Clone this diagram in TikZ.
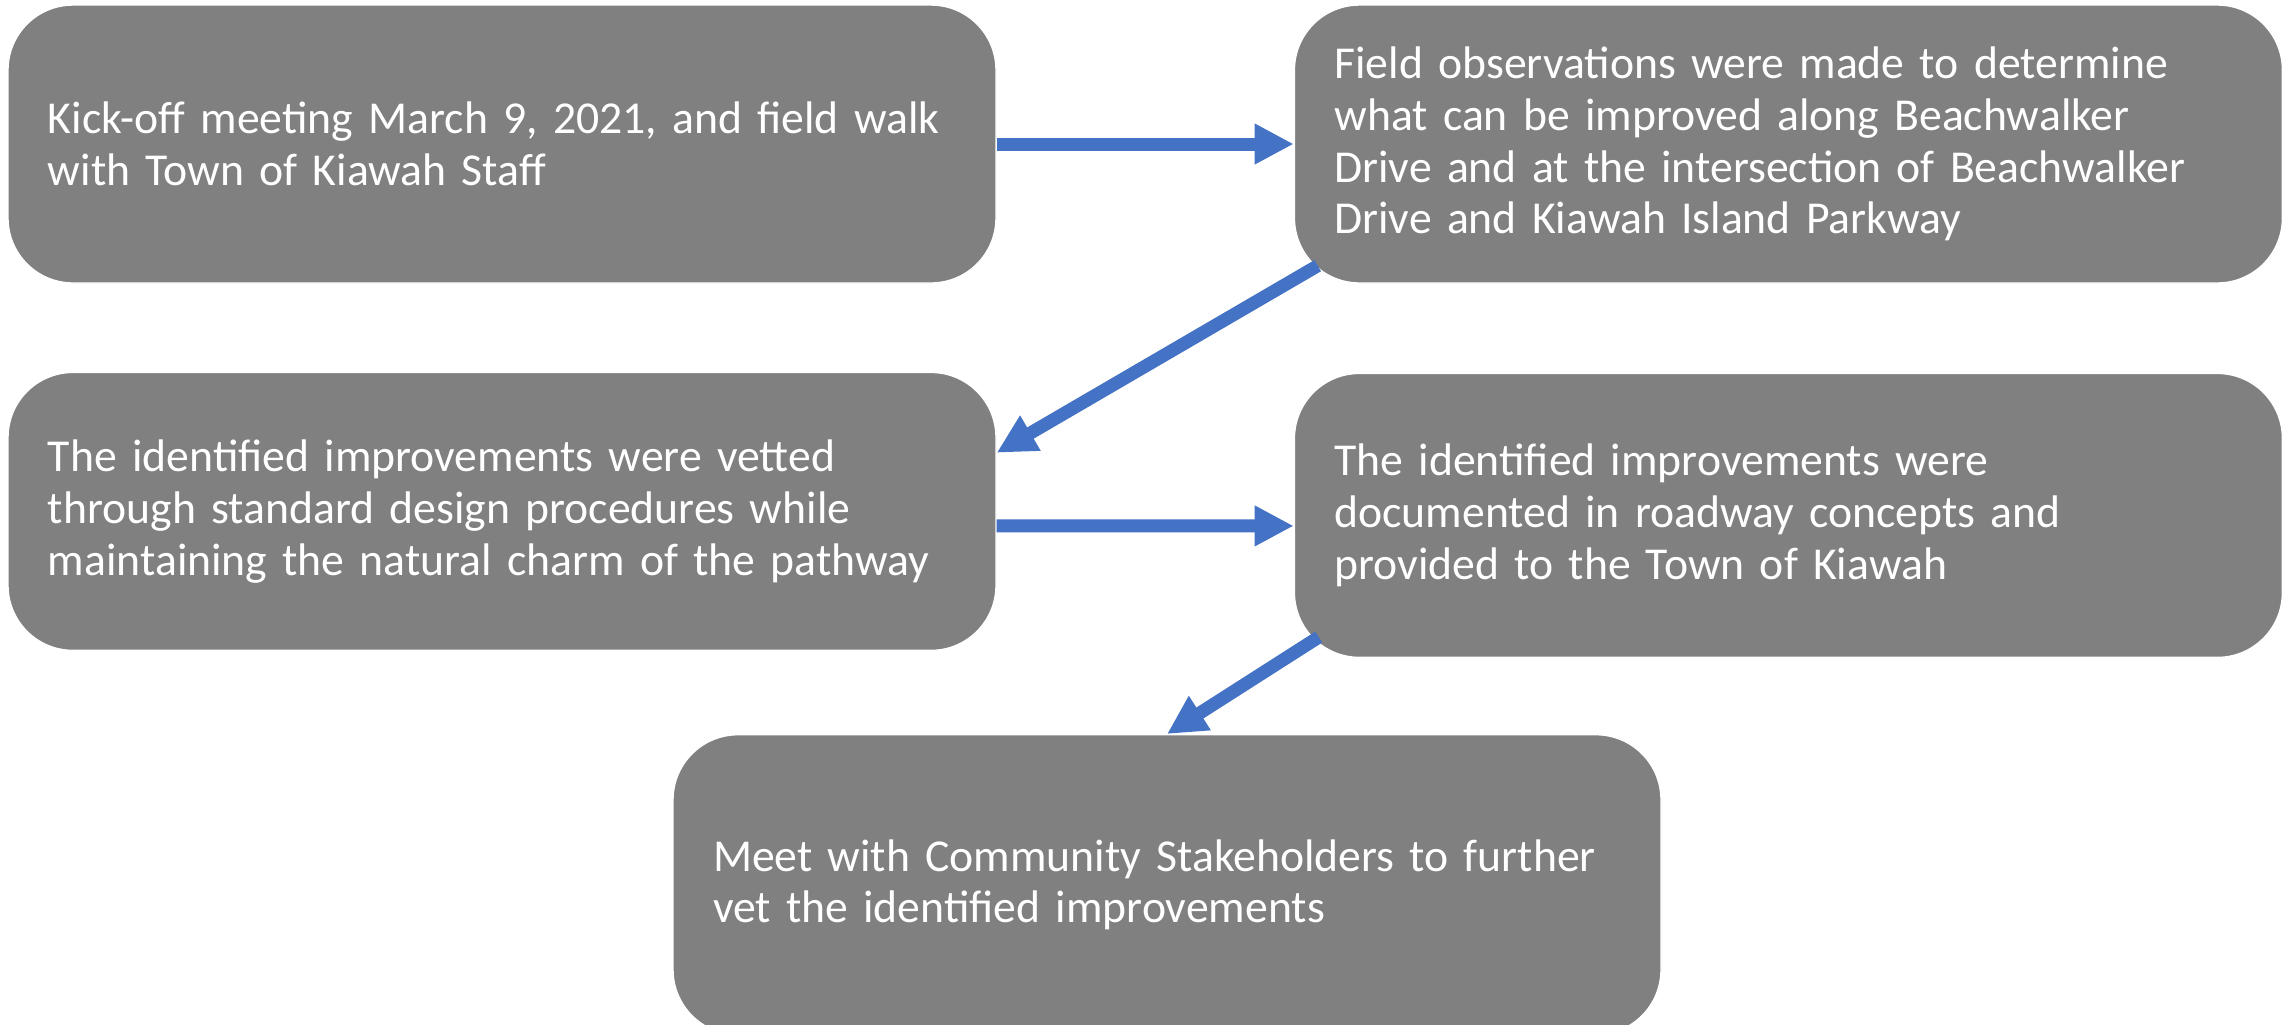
\documentclass[tikz,border=0pt]{standalone}
\usepackage{fontspec}
\setmainfont{Carlito}
\usepackage{tikz}
\usetikzlibrary{positioning}
\usetikzlibrary{arrows.meta}
\definecolor{boxgray}{RGB}{128,128,128}
\definecolor{arrowblue}{RGB}{68,114,196}
\hyphenpenalty=10000

\begin{document}
\begin{tikzpicture}[
    node distance=8.8mm and 29.7mm, % Global setup of box spacing
    ]
% -------------------------------------------------
\tikzset{
  base/.style={draw=white, line width=0.4pt, fill=boxgray, text=white, rounded corners=6.5mm},
  stepbox/.style={base, rectangle, minimum width=9.88cm, minimum height=2.78cm, text width=9.08cm,
    inner xsep=4mm, inner ysep=4mm, align=left, font=\fontsize{13}{14.7}\selectfont},
  link/.style={draw, arrowblue, line width=1.3mm, -{Triangle[length=3.9mm, width=3.8mm]}}
}
% -------------------------------------------------
\useasboundingbox (0,0) rectangle (22.95,-10.24);

% Placing the nodes
\node [stepbox] (kick) at (5.02,-1.44) {Kick-off meeting March 9, 2021, and field walk\\with Town of Kiawah Staff};
\node [stepbox, right=of kick] (obs) {Field observations were made to determine\\what can be improved along Beachwalker\\Drive and at the intersection of Beachwalker\\Drive and Kiawah Island Parkway};
\node [stepbox, below=of kick] (vet) {The identified improvements were vetted\\through standard design procedures while\\maintaining the natural charm of the pathway};
\node [stepbox, below=8.9mm of obs, minimum height=2.84cm] (doc) {The identified improvements were\\documented in roadway concepts and\\provided to the Town of Kiawah};
\node [stepbox, anchor=north, minimum height=3cm] (meet) at (11.67,-7.34) {Meet with Community Stakeholders to further\\vet the identified improvements};

% Connectors
\path [link] (kick) -- (obs);
\path [link] ([xshift=2.4mm, yshift=1.8mm]obs.south west) -- ([yshift=-8.1mm]vet.north east);
\path [link] ([yshift=-1.45mm]vet.east) -- ([yshift=-1.05mm]doc.west);
\path [link] ([xshift=2.5mm, yshift=2.1mm]doc.south west) -- (meet.north);

\end{tikzpicture}
\end{document}
